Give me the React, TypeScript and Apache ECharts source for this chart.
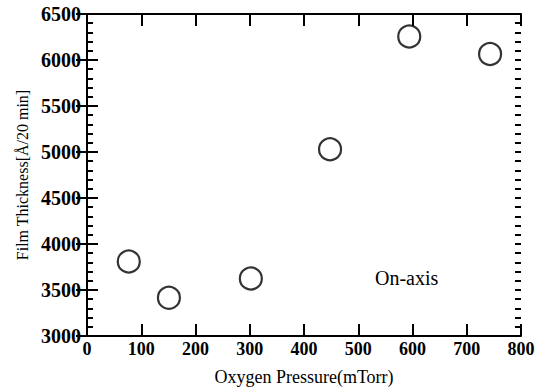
import React, { useEffect, useRef } from "react";
import * as echarts from "echarts";

const pressure = [77, 151, 302, 448, 594, 743];
const thickness = [3810, 3415, 3625, 5030, 6255, 6065];
const xTitle = "Oxygen Pressure(mTorr)";
const yTitle = "Film Thickness[Å/20 min]";
const note = "On-axis";

const FONT = "Liberation Serif";

export default function App() {
  const ref = useRef<HTMLDivElement>(null);
  useEffect(() => {
    if (!ref.current) return;
    const chart = echarts.init(ref.current, undefined, { renderer: "svg" });
    const lineStyle = { color: "#000", width: 2 };
    const plain = (v: number) => String(v);
    const minorY = (position: string) => ({
      type: "value",
      min: 3000,
      max: 6500,
      interval: 100,
      position,
      offset: 0,
      axisLine: { show: false },
      axisTick: { show: true, inside: true, length: 6, lineStyle },
      axisLabel: { show: false },
      splitLine: { show: false },
    });
    chart.setOption({
      animation: false,
      backgroundColor: "#fff",
      grid: { left: 87, right: 26, top: 14, bottom: 56 },
      xAxis: [
        {
          type: "value",
          min: 0,
          max: 800,
          interval: 100,
          position: "bottom",
          name: xTitle,
          nameLocation: "middle",
          nameGap: 32,
          nameTextStyle: { fontFamily: FONT, fontSize: 18, color: "#000" },
          axisLine: { show: true, lineStyle },
          axisTick: { show: true, inside: true, length: 12, lineStyle },
          axisLabel: {
            fontFamily: FONT,
            fontWeight: "bold",
            fontSize: 18,
            color: "#000",
            margin: 4,
            formatter: plain,
          },
          splitLine: { show: false },
        },
        {
          type: "value",
          min: 0,
          max: 800,
          interval: 100,
          position: "top",
          axisLine: { show: true, lineStyle },
          axisTick: { show: true, inside: true, length: 12, lineStyle },
          axisLabel: { show: false },
          splitLine: { show: false },
        },
      ],
      yAxis: [
        {
          type: "value",
          min: 3000,
          max: 6500,
          interval: 500,
          position: "left",
          name: yTitle,
          nameLocation: "middle",
          nameGap: 54,
          nameTextStyle: { fontFamily: FONT, fontSize: 16, color: "#000" },
          axisLine: { show: true, lineStyle },
          axisTick: { show: true, inside: true, length: 11, lineStyle },
          axisLabel: {
            fontFamily: FONT,
            fontWeight: "bold",
            fontSize: 20,
            color: "#000",
            margin: 6,
            formatter: plain,
          },
          splitLine: { show: false },
        },
        {
          type: "value",
          min: 3000,
          max: 6500,
          interval: 500,
          position: "right",
          axisLine: { show: true, lineStyle },
          axisTick: { show: true, inside: true, length: 11, lineStyle },
          axisLabel: { show: false },
          splitLine: { show: false },
        },
        minorY("left"),
        minorY("right"),
      ],
      series: [
        {
          type: "scatter",
          xAxisIndex: 0,
          yAxisIndex: 0,
          data: pressure.map((p, i) => [p, thickness[i]]),
          symbol: "circle",
          symbolSize: 22,
          itemStyle: { color: "#fff", borderColor: "#000", borderWidth: 2.2 },
        },
      ],
      graphic: [
        {
          type: "text",
          left: 375,
          top: 268,
          style: { text: note, fontFamily: FONT, fontSize: 20, fill: "#000" },
        },
      ],
    });
    return () => chart.dispose();
  }, []);
  return (
    <div
      ref={ref}
      style={{ position: "absolute", left: 0, top: 0, width: 547, height: 392 }}
    />
  );
}
